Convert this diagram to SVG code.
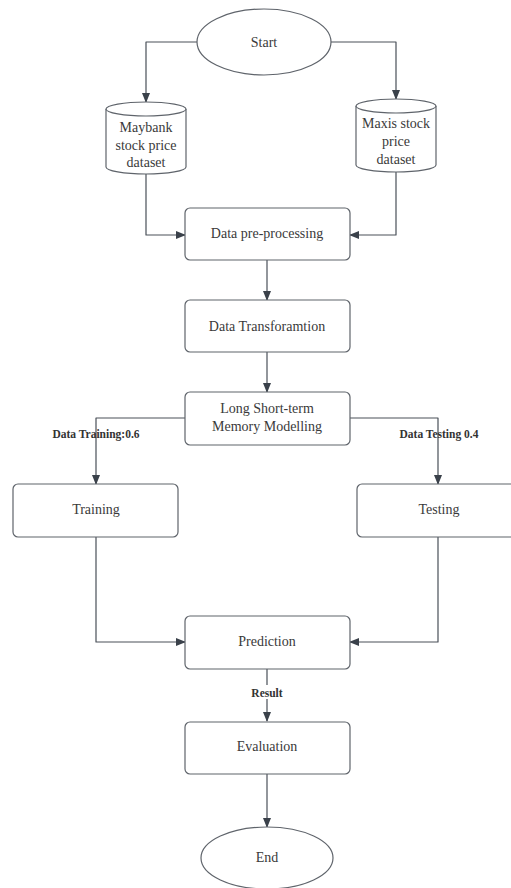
<svg xmlns="http://www.w3.org/2000/svg" width="511" height="888" viewBox="0 0 511 888">
<style>
.n{fill:#fff;stroke:#5f646b;stroke-width:1.2}
.t{font-family:"Liberation Serif","Times New Roman",Times,serif;font-size:14px;fill:#3a3a3a;text-anchor:middle}
.l{font-family:"Liberation Serif","Times New Roman",Times,serif;font-size:11.5px;font-weight:bold;fill:#333;text-anchor:middle}
.c{fill:none;stroke:#4a5059;stroke-width:1.2;stroke-linejoin:round}
</style>
<defs>
<marker id="a" markerWidth="10" markerHeight="10" refX="9" refY="5" orient="auto" markerUnits="userSpaceOnUse">
<path d="M0,1 L10,5 L0,9 Z" fill="#3a414a"/>
</marker>
</defs>
<rect width="511" height="888" fill="#fff"/>
<g id="connectors">
<path class="c" d="M197,42 H146 V102" marker-end="url(#a)"/>
<path class="c" d="M330,42 H396 V99" marker-end="url(#a)"/>
<path class="c" d="M146,174 V235 H185" marker-end="url(#a)"/>
<path class="c" d="M396,172 V235 H350" marker-end="url(#a)"/>
<path class="c" d="M267,260 V300" marker-end="url(#a)"/>
<path class="c" d="M267,352 V392" marker-end="url(#a)"/>
<path class="c" d="M185,418 H96 V484" marker-end="url(#a)"/>
<path class="c" d="M350,418 H438 V484" marker-end="url(#a)"/>
<path class="c" d="M96,537 V642 H185" marker-end="url(#a)"/>
<path class="c" d="M438,537 V642 H350" marker-end="url(#a)"/>
<path class="c" d="M267,669 V685 M267,699 V721" marker-end="url(#a)"/>
<path class="c" d="M267,774 V827" marker-end="url(#a)"/>
<text class="l" x="96" y="438">Data Training:0.6</text>
<text class="l" x="439" y="438">Data Testing 0.4</text>
<text class="l" x="267" y="697">Result</text>
</g>
<g id="start"><ellipse class="n" cx="264" cy="42" rx="67" ry="33"/><text class="t" x="264" y="47">Start</text></g>
<g id="maybank">
<path class="n" d="M106,109 A40,7 0 0 1 186,109 V167 A40,7 0 0 1 106,167 Z"/>
<path class="n" d="M106,109 A40,7 0 0 0 186,109" fill="none"/>
<text class="t" x="146" y="132">Maybank</text><text class="t" x="146" y="150">stock price</text><text class="t" x="146" y="167">dataset</text>
</g>
<g id="maxis">
<path class="n" d="M356,106 A40,7 0 0 1 436,106 V165 A40,7 0 0 1 356,165 Z"/>
<path class="n" d="M356,106 A40,7 0 0 0 436,106" fill="none"/>
<text class="t" x="396" y="128">Maxis stock</text><text class="t" x="396" y="146">price</text><text class="t" x="396" y="164">dataset</text>
</g>
<g id="preprocess"><rect class="n" x="185" y="208" width="165" height="52" rx="5"/><text class="t" x="267" y="238">Data pre-processing</text></g>
<g id="transform"><rect class="n" x="185" y="300" width="165" height="52" rx="5"/><text class="t" x="267" y="331">Data Transforamtion</text></g>
<g id="lstm"><rect class="n" x="185" y="392" width="165" height="53" rx="5"/><text class="t" x="267" y="413">Long Short-term</text><text class="t" x="267" y="431">Memory Modelling</text></g>
<g id="training"><rect class="n" x="13" y="484" width="165" height="53" rx="5"/><text class="t" x="96" y="514">Training</text></g>
<g id="testing"><rect class="n" x="357" y="484" width="165" height="53" rx="5"/><text class="t" x="439" y="514">Testing</text></g>
<g id="prediction"><rect class="n" x="185" y="616" width="165" height="53" rx="5"/><text class="t" x="267" y="646">Prediction</text></g>
<g id="evaluation"><rect class="n" x="185" y="722" width="165" height="52" rx="5"/><text class="t" x="267" y="751">Evaluation</text></g>
<g id="end"><ellipse class="n" cx="267" cy="858" rx="66" ry="31"/><text class="t" x="267" y="862">End</text></g>
</svg>
